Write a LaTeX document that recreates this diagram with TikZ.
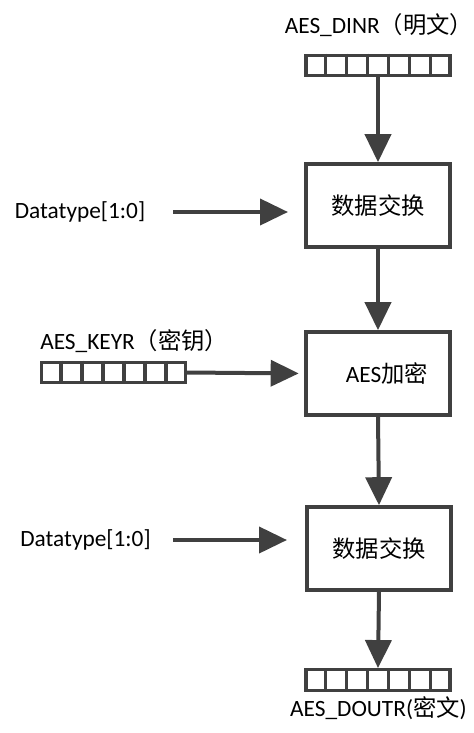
\documentclass[tikz,border=0pt]{standalone}
\usepackage{fontspec}
\setmainfont{Carlito}
\newfontfamily\cjk{Noto Sans CJK SC}
\usetikzlibrary{arrows.meta, calc}
\definecolor{linegray}{HTML}{404040}

\begin{document}
\begin{tikzpicture}[
  x=0.75pt, y=-0.75pt,
  every node/.style={font=\fontsize{17.5}{20}\selectfont},
  proc/.style={rectangle, draw=linegray, line width=3pt, fill=white,
               minimum width=108pt, minimum height=62pt, inner sep=0pt},
  reg/.style={rectangle, draw=linegray, line width=2.4pt,
              minimum width=108pt, minimum height=15.5pt, inner sep=0pt},
  lbl/.style={inner sep=0pt},
  arrow/.style={-{Triangle[length=21pt, width=19.5pt]}, line width=3pt, linegray},
]
\useasboundingbox (0,0) rectangle (474,733);

% ---- 寄存器 ----
\node[reg] (dinr)  at (378,65.5)  {};
\node[reg] (keyr)  at (113.5,372.5) {};
\node[reg] (doutr) at (378,680) {};

\foreach \r in {dinr, keyr, doutr}
  \foreach \i in {1,...,6}
    \draw[linegray, line width=2.4pt]
      ($(\r.north west)!\i/7!(\r.north east)$) --
      ($(\r.south west)!\i/7!(\r.south east)$);

\node[lbl] (dinr-l)  at (379,25)  {AES\_DINR{\cjk （明文）}};
\node[lbl, anchor=west] (keyr-l) at (40,341) {AES\_KEYR{\cjk （密钥）}};
\node[lbl] (doutr-l) at (378.5,708) {AES\_DOUTR({\cjk 密文})};

% ---- 处理框 ----
\node[proc] (swap1) at (378,205.5) {\cjk 数据交换};
\node[proc] (enc)   at (378,373.5) {};
\node[lbl]  (enc-l) at (387,374)   {AES{\cjk 加密}};
\node[proc] (swap2) at (379,548.5) {\cjk 数据交换};

% ---- 控制输入 ----
\node[lbl] (dt1) at (80,212)   {Datatype[1:0]};
\node[lbl] (dt2) at (85.5,540) {Datatype[1:0]};

% ---- 连线 ----
\draw[arrow] (dinr.south)  -- (swap1.north);
\draw[arrow] (swap1.south) -- (enc.north);
\draw[arrow] (enc.south)   -- (swap2.north);
\draw[arrow] (swap2.south) -- (doutr.north);
\draw[arrow, shorten >=4pt] (keyr.east) -- (enc.west);
\draw[arrow, shorten <=21pt, shorten >=12pt] (dt1.east) -- (dt1.east -| swap1.west);
\draw[arrow, shorten <=16.5pt, shorten >=13.5pt] (dt2.east) -- (dt2.east -| swap2.west);

\end{tikzpicture}
\end{document}
